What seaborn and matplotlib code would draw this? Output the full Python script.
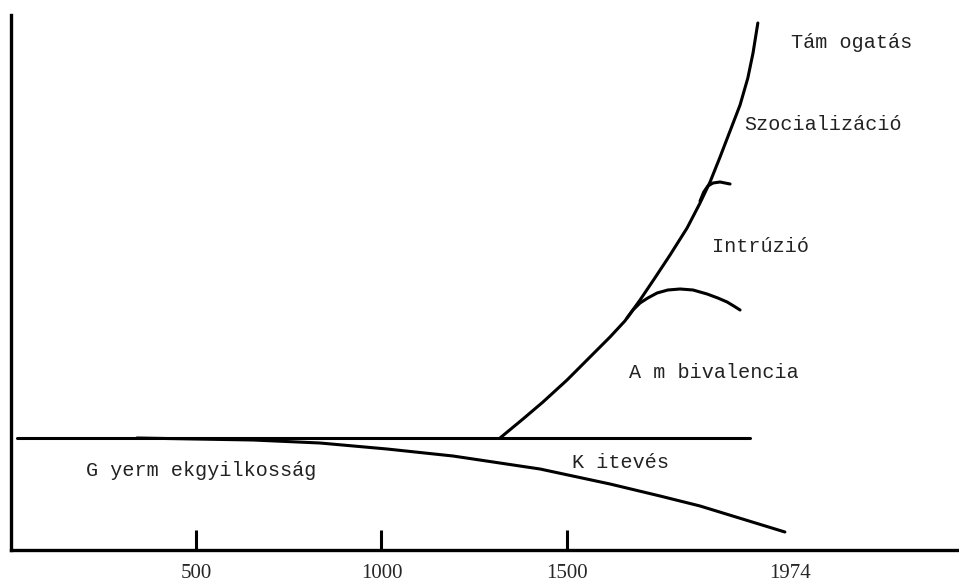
import numpy as np
import pandas as pd
import matplotlib
matplotlib.use("Agg")
import matplotlib.pyplot as plt
import seaborn as sns

# timeline (x in years-like units, y in arbitrary "attitude" units)
base_x = [16, 1995]
base_y = [112, 112]

# infanticide / abandonment branch going down
down_x = [340, 653, 834, 1015, 1193, 1428, 1617, 1752, 1860, 2089]
down_y = [112, 110, 107, 101, 94, 81, 66, 54, 44, 18]

# rising branch: ambivalence -> intrusion -> socialization -> support
up_x = [1320, 1382, 1436, 1501, 1563, 1617, 1657, 1698, 1738, 1779,
        1825, 1860, 1887, 1914, 1941, 1968, 1989, 2003, 2016]
up_y = [112, 131, 148, 170, 193, 213, 229, 250, 272, 295,
        322, 347, 368, 393, 419, 445, 472, 497, 527]

# lower arc (intrusion)
arc1_x = [1663, 1679, 1698, 1719, 1744, 1773, 1806, 1841, 1879, 1908, 1933, 1951, 1968]
arc1_y = [232, 240, 247, 252, 257, 260, 261, 260, 256, 252, 248, 244, 240]

# upper small arc (socialization)
arc2_x = [1860, 1870, 1881, 1895, 1914, 1941]
arc2_y = [349, 358, 364, 367, 368, 366]

tick_years = [500, 1000, 1500]
tick_labels = ["500", "1000", "1500"]
end_year_label = "1974"
end_year_pos = 2103

phase_labels = ["Tám ogatás", "Szocializáció", "Intrúzió", "A m bivalencia",
                "K itevés", "G yerm ekgyilkosság"]
phase_x = [2270, 2192, 2024, 1898, 1644, 513]
phase_y = [508, 425, 303, 177, 87, 80]

sns.set_theme(style="white")
plt.rcParams.update({"axes.edgecolor": "black"})

fig = plt.figure(figsize=(9.59, 5.81), dpi=100)
ax = fig.add_axes([11 / 959, 31 / 581, 948 / 959, 535 / 581])

lw = 2.2
for xs, ys in [(base_x, base_y), (down_x, down_y), (up_x, up_y),
               (arc1_x, arc1_y), (arc2_x, arc2_y)]:
    df = pd.DataFrame({"x": xs, "y": ys})
    sns.lineplot(data=df, x="x", y="y", ax=ax, color="black", linewidth=lw,
                 sort=False, estimator=None)

ax.set_xlim(0, 2559)
ax.set_ylim(0, 535)
ax.set_xlabel("")
ax.set_ylabel("")

for side in ["top", "right"]:
    ax.spines[side].set_visible(False)
for side in ["left", "bottom"]:
    ax.spines[side].set_linewidth(2.4)
    ax.spines[side].set_color("black")

ax.set_yticks([])
ax.set_xticks(tick_years)
ax.set_xticklabels(tick_labels, fontfamily="Liberation Serif", fontsize=15)
ax.tick_params(axis="x", which="major", direction="in", length=14.4, width=2.2,
               color="black", pad=10, bottom=True)
ax.set_xticks([end_year_pos], minor=True)
ax.set_xticklabels([end_year_label], minor=True, fontfamily="Liberation Serif", fontsize=15)
ax.tick_params(axis="x", which="minor", length=0, pad=10, bottom=True)

for lab, x, y in zip(phase_labels, phase_x, phase_y):
    ax.text(x, y, lab, ha="center", va="center", fontfamily="Liberation Mono",
            fontsize=14.5, color="#222222")

fig.savefig("out.png", dpi=100)
